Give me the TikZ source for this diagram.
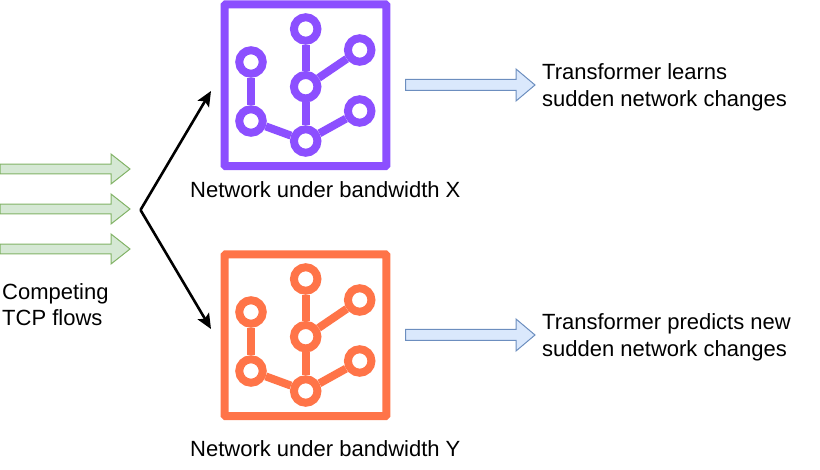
\documentclass[tikz,border=0pt]{standalone}
\usepackage{fontspec}
\setmainfont{Liberation Sans}
\usetikzlibrary{arrows.meta}
\definecolor{purp}{HTML}{8C4FFF}
\definecolor{oran}{HTML}{FF7448}
\definecolor{gfill}{HTML}{D5E8D4}
\definecolor{gline}{HTML}{82B366}
\definecolor{bfill}{HTML}{DAE8FC}
\definecolor{bline}{HTML}{6C8EBF}
\tikzset{
  label text/.style={font=\fontsize{22}{26}\selectfont, anchor=base west, inner sep=0pt, text=black},
  fork/.style={line width=2.6pt, -{Stealth[length=15pt,width=13pt,inset=3pt]}},
  tree dot/.style={circle, draw=#1, line width=8pt, fill=white, minimum size=23.5pt, inner sep=0pt},
  tree edge/.style={draw=#1, line width=8pt},
  net/.pic={
    \draw[tkcol, line width=8pt, rounded corners=1pt] (224.7,4.4) rectangle (386.3,166.1);
    \node[tree dot=tkcol] (-a) at (251,62) {};
    \node[tree dot=tkcol] (-b) at (305.7,29) {};
    \node[tree dot=tkcol] (-c) at (359.7,50) {};
    \node[tree dot=tkcol] (-d) at (305.7,86.7) {};
    \node[tree dot=tkcol] (-e) at (359.7,111) {};
    \node[tree dot=tkcol] (-f) at (251,121) {};
    \node[tree dot=tkcol] (-g) at (305.7,141) {};
    \draw[tree edge=tkcol] (-a) -- (-f);
    \draw[tree edge=tkcol] (-f) -- (-g);
    \draw[tree edge=tkcol] (-g) -- (-d);
    \draw[tree edge=tkcol] (-d) -- (-b);
    \draw[tree edge=tkcol] (-d) -- (-c);
    \draw[tree edge=tkcol] (-g) -- (-e);
  },
  green arrow/.pic={
    \draw[gline, fill=gfill, line width=1pt, line join=miter]
      (0,-4.8) -- (111,-4.8) -- (111,-15) -- (130,0) -- (111,15) -- (111,4.8) -- (0,4.8) -- cycle;
  },
  blue arrow/.pic={
    \draw[bline, fill=bfill, line width=1pt, line join=miter]
      (405.7,-5.5) -- (516,-5.5) -- (516,-16) -- (535,0) -- (516,16) -- (516,5.5) -- (405.7,5.5) -- cycle;
  },
}
\begin{document}
\begin{tikzpicture}[x=1pt,y=-1pt]
\useasboundingbox (0,0) rectangle (820,470);
\colorlet{tkcol}{purp}
\pic (netx) at (0,0) {net};
\begin{scope}
\colorlet{tkcol}{oran}
\pic (nety) at (0,250) {net};
\end{scope}
\pic (g1) at (0,169) {green arrow};
\pic (g2) at (0,209) {green arrow};
\pic (g3) at (0,249) {green arrow};
\pic (b1) at (0,85) {blue arrow};
\pic (b2) at (0,335) {blue arrow};
\coordinate (fork) at (140.5,210);
\coordinate (upper) at (211,91);
\coordinate (lower) at (211,329);
\draw[fork] (fork) -- (upper);
\draw[fork] (fork) -- (lower);
\node[label text] (t1) at (190,197.7) {Network under bandwidth X};
\node[label text] (t2) at (190,456.7) {Network under bandwidth Y};
\node[label text] (t3) at (2,299.7) {Competing};
\node[label text] (t4) at (2,325.7) {TCP flows};
\node[label text] (t5) at (542,79.7) {Transformer learns};
\node[label text] (t6) at (542,106.7) {sudden network changes};
\node[label text] (t7) at (542,329.7) {Transformer predicts new};
\node[label text] (t8) at (542,356.7) {sudden network changes};
\end{tikzpicture}
\end{document}
